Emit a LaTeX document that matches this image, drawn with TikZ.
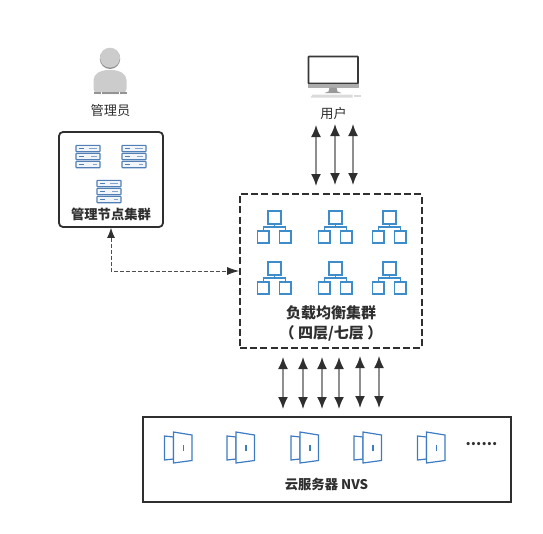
\documentclass[tikz,border=0pt]{standalone}
\usepackage{fontspec}
\setmainfont{Noto Sans CJK SC}
\usetikzlibrary{positioning, arrows.meta}
\definecolor{ink}{HTML}{2F2F2F}
\definecolor{shaft}{HTML}{8F8F8F}
\definecolor{iconblue}{HTML}{3F8CCB}
\definecolor{doorblue}{HTML}{3D7CC2}
\definecolor{rackblue}{HTML}{4F7FB5}

\begin{document}
\begin{tikzpicture}[
    x=1pt, y=-1pt,
    box/.style={rectangle, draw=ink, line width=1.8pt, inner sep=0pt},
    dash_box/.style={box, dash pattern=on 7pt off 3.2pt},
    label/.style={font=\fontsize{13.2}{15}\selectfont, text=ink, inner sep=0pt},
    title/.style={font=\fontsize{13.3}{20}\selectfont\bfseries, text=ink, inner sep=0pt, align=center},
    big_title/.style={title, font=\fontsize{15}{20}\selectfont\bfseries},
    both_arrow/.style={{Latex[length=12pt, width=10pt, color=ink]}-{Latex[length=12pt, width=10pt, color=ink]}, draw=shaft, line width=1.7pt},
    dashed_arrow/.style={{Latex[length=10pt, width=8pt, color=ink]}-{Latex[length=12pt, width=8pt, color=ink]}, draw=ink!85, line width=0.8pt, dash pattern=on 4pt off 2pt},
    server_icon/.pic={
        \foreach \rowy/\barlen in {-8/8, 0/6, 8/4}{
            \draw[rackblue, line width=1.1pt, fill=rackblue!8, rounded corners=0.5pt] (-12,\rowy-3.2) rectangle (12,\rowy+3.2);
            \fill[rackblue] (-9,\rowy-0.8) rectangle (-4.5,\rowy+0.8);
            \fill[rackblue!70] (9,\rowy-0.6) rectangle (9-\barlen,\rowy+0.6);
        }
    },
    tree_icon/.pic={
        \draw[iconblue, line width=1.4pt] (-6.5,-16) rectangle (6.5,-3);
        \draw[iconblue, line width=1.4pt] (-17,4) rectangle (-5.5,16);
        \draw[iconblue, line width=1.4pt] (5,4) rectangle (16.5,16);
        \draw[iconblue, line width=1.4pt] (0,-3) -- (0,0) (-11,4) -- (-11,0) -- (11,0) -- (11,4);
    },
    door_icon/.pic={
        \draw[doorblue, line width=1.2pt] (0,4) -- (9,5) -- (9,27) -- (0,28) -- cycle;
        \draw[doorblue, line width=1.2pt, fill=white] (9,0) -- (27.5,3) -- (27.5,28.5) -- (9,31) -- cycle;
        \draw[doorblue, line width=1.2pt] (19,13) -- (19,19);
    },
    person_icon/.pic={
        \fill[black!45] (0,0.8) circle (10.2);
        \fill[black!20] (0,-0.3) circle (10);
        \fill[black!20, rounded corners=5pt] (-16.5,36) -- (-16.5,17) -- (-7,12) -- (7,12) -- (16.5,17) -- (16.5,36) -- cycle;
        \fill[black!42] (-16.5,33.5) rectangle (16.5,36);
        \fill[white] (-9.5,33.5) rectangle (-8.8,36);
        \fill[white] (8.8,33.5) rectangle (9.5,36);
    },
    screen_icon/.pic={
        \draw[black!78, line width=1.7pt, fill=white, rounded corners=0.5pt] (0,0) rectangle (49.5,27);
        \fill[black!32] (-0.8,27.8) rectangle (50.3,31);
        \fill[black!40] (21,31) -- (28,31) -- (29,35) -- (33,36.5) -- (16,36.5) -- (20,35) -- cycle;
        \fill[black!14] (4,38) -- (44,38) -- (44,41) -- (2,41) -- cycle;
        \fill[black!14] (45,38.5) rectangle (52,40.5);
    },
]
\useasboundingbox (0,0) rectangle (543,533);

%% NODES
    % admin side
    \pic at (110,58) {person_icon};
    \node[label] (admin_label) at (110.5,110) {管理员};
    \node[box, rounded corners=4pt, minimum width=104pt, minimum height=95pt] (admin_box) at (111,179.5) {};
    \pic at (88,156.5) {server_icon};
    \pic at (134,156.5) {server_icon};
    \pic at (109,191.5) {server_icon};
    \node[title] (admin_title) at (111,214) {管理节点集群};

    % user side
    \pic at (308.5,56.5) {screen_icon};
    \node[label] (user_label) at (333.5,113) {用户};

    % load balancer
    \node[dash_box, minimum width=182pt, minimum height=154pt] (lb_box) at (331,271) {};
    \pic at (274.5,227) {tree_icon};
    \pic at (335.5,227) {tree_icon};
    \pic at (389.5,227) {tree_icon};
    \pic at (274.5,278) {tree_icon};
    \pic at (335.5,278) {tree_icon};
    \pic at (389.5,278) {tree_icon};
    \node[big_title] (lb_title) at (331,323) {负载均衡集群\\（ 四层/七层 ）};

    % servers
    \node[box, minimum width=368pt, minimum height=85pt] (nvs_box) at (327,459.5) {};
    \pic at (164.5,432) {door_icon};
    \pic at (227,432) {door_icon};
    \pic at (291,432) {door_icon};
    \pic at (354,432) {door_icon};
    \pic at (417.5,432) {door_icon};
    \node[big_title] (dots) at (481.5,444) {......};
    \node[title] (nvs_title) at (326.5,484) {云服务器 NVS};

%% ARROWS
    \coordinate (user_a) at (316,125);
    \coordinate (lb_a) at (316,186);
    \coordinate (user_b) at (335,124);
    \coordinate (lb_b) at (335,185);
    \coordinate (user_c) at (353,124);
    \coordinate (lb_c) at (353,185);
    \draw[both_arrow] (user_a) -- (lb_a);
    \draw[both_arrow] (user_b) -- (lb_b);
    \draw[both_arrow] (user_c) -- (lb_c);

    \coordinate (lb_d) at (283,357);
    \coordinate (nvs_d) at (283,409);
    \coordinate (lb_e) at (303,357);
    \coordinate (nvs_e) at (303,409);
    \coordinate (lb_f) at (322,357);
    \coordinate (nvs_f) at (322,409);
    \coordinate (lb_g) at (339,357);
    \coordinate (nvs_g) at (339,409);
    \coordinate (lb_h) at (360,356);
    \coordinate (nvs_h) at (360,408);
    \coordinate (lb_i) at (379,356);
    \coordinate (nvs_i) at (379,408);
    \draw[both_arrow] (lb_d) -- (nvs_d);
    \draw[both_arrow] (lb_e) -- (nvs_e);
    \draw[both_arrow] (lb_f) -- (nvs_f);
    \draw[both_arrow] (lb_g) -- (nvs_g);
    \draw[both_arrow] (lb_h) -- (nvs_h);
    \draw[both_arrow] (lb_i) -- (nvs_i);

    \draw[dashed_arrow] (admin_box.south) |- (lb_box.west);

\end{tikzpicture}
\end{document}
